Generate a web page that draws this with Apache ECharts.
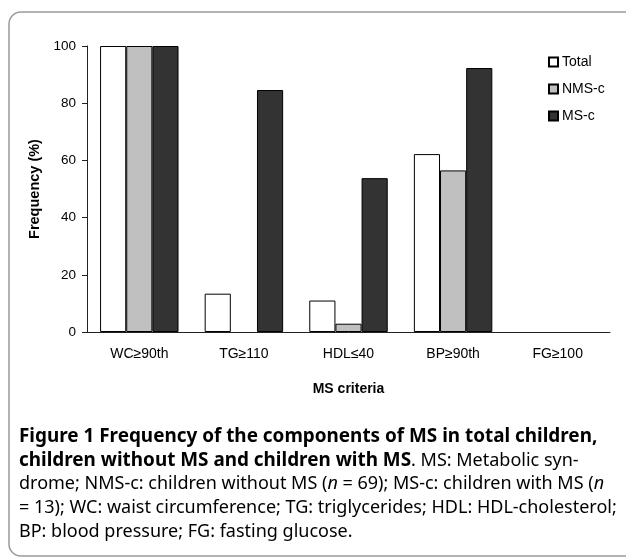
<!DOCTYPE html>
<html>
<head>
<meta charset="utf-8">
<script src="https://cdn.jsdelivr.net/npm/echarts@6/dist/echarts.min.js"></script>
<style>
  html, body { margin: 0; padding: 0; background: #fff; }
  #chart { width: 626px; height: 559px; }
</style>
</head>
<body>
<div id="chart"></div>
<script>
// MS criteria on the x axis
var criteria = ['WC≥90th', 'TG≥110', 'HDL≤40', 'BP≥90th', 'FG≥100'];
// frequency (%) per group
var totalVals = [100, 13.4, 11.0, 62.2, 0];
var nmsVals = [100, 0, 2.9, 56.5, 0];
var msVals = [100, 84.6, 53.8, 92.3, 0];
var yTicks = [0, 20, 40, 60, 80, 100];

var chart = echarts.init(document.getElementById('chart'));

var capFont = '"Noto Sans", sans-serif';
var capRich = {
  b: { fontFamily: capFont, fontWeight: 'bold', fontSize: 18.9, color: '#000' },
  n: { fontFamily: capFont, fontSize: 18, color: '#333' },
  i: { fontFamily: capFont, fontSize: 18, fontStyle: 'italic', color: '#333' }
};
var capLines = [
  '{b|Figure 1 Frequency of the components of MS in total children,}',
  '{b|children without MS and children with MS}{n|. MS: Metabolic syn-}',
  '{n|drome; NMS-c: children without MS (}{i|n}{n| = 69); MS-c: children with MS (}{i|n}',
  '{n|= 13); WC: waist circumference; TG: triglycerides; HDL: HDL-cholesterol;}',
  '{n|BP: blood pressure; FG: fasting glucose.}'
];

var graphics = [{
  type: 'rect',
  shape: { x: 9, y: 12, width: 640, height: 544, r: 12 },
  style: { fill: 'none', stroke: '#999', lineWidth: 1.5 },
  silent: true
}];
capLines.forEach(function (line, k) {
  graphics.push({
    type: 'text',
    left: 19,
    top: 427 + k * 24,
    style: { text: line, rich: capRich }
  });
});

var barStyle = function (c) {
  return { color: c, borderColor: '#000', borderWidth: 1 };
};
// zero bars get no outline, so nothing is drawn for them
var barData = function (vals) {
  return vals.map(function (v) {
    return v === 0 ? { value: 0, itemStyle: { borderWidth: 0 } } : v;
  });
};

var option = {
  animation: false,
  textStyle: { fontFamily: '"Liberation Sans", Arial, sans-serif' },
  grid: { left: 87, right: 16, top: 46, bottom: 227 },
  legend: {
    orient: 'vertical',
    left: 548,
    top: 55,
    padding: 0,
    itemWidth: 9,
    itemHeight: 9,
    itemGap: 13,
    icon: 'rect',
    textStyle: { fontSize: 14, color: '#000', padding: [0, 0, 0, -1] },
    data: ['Total', 'NMS-c', 'MS-c']
  },
  xAxis: {
    type: 'category',
    data: criteria,
    name: 'MS criteria',
    nameLocation: 'middle',
    nameGap: 50,
    nameTextStyle: { fontSize: 14, fontWeight: 'bold', color: '#000' },
    axisLine: { lineStyle: { color: '#222' } },
    axisTick: { inside: true, length: 5, lineStyle: { color: '#222' } },
    axisLabel: { fontSize: 14, color: '#000', margin: 15 }
  },
  yAxis: {
    type: 'value',
    min: 0,
    max: 100,
    interval: 20,
    name: 'Frequency (%)',
    nameLocation: 'middle',
    nameGap: 42,
    nameTextStyle: { fontSize: 14.5, fontWeight: 'bold', color: '#000' },
    axisLine: { show: true, lineStyle: { color: '#222' } },
    axisTick: { show: true, length: 5, lineStyle: { color: '#222' } },
    axisLabel: {
      fontSize: 13.5, color: '#000', margin: 11,
      formatter: function (v) { return yTicks.indexOf(v) >= 0 ? String(v) : ''; }
    },
    splitLine: { show: false }
  },
  series: [
    { name: 'Total', type: 'bar', data: barData(totalVals), barGap: '0%', barCategoryGap: '25%', itemStyle: barStyle('#ffffff') },
    { name: 'NMS-c', type: 'bar', data: barData(nmsVals), barGap: '0%', barCategoryGap: '25%', itemStyle: barStyle('#c0c0c0') },
    { name: 'MS-c', type: 'bar', data: barData(msVals), barGap: '0%', barCategoryGap: '25%', itemStyle: barStyle('#333333') }
  ],
  graphic: graphics
};
chart.setOption(option);
</script>
</body>
</html>
